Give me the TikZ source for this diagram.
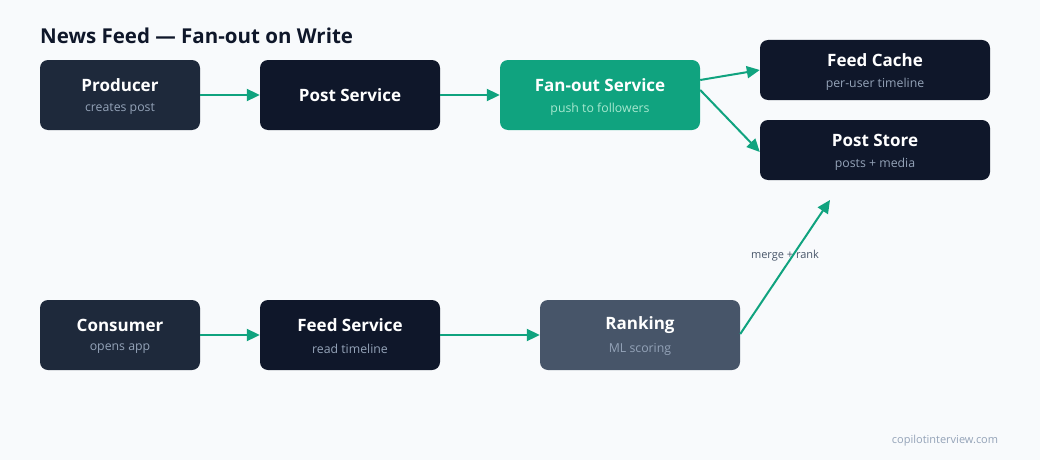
\documentclass[tikz,border=0pt]{standalone}
\usepackage{fontspec}
\setmainfont{Open Sans}
\usetikzlibrary{arrows.meta}
\definecolor{bg}{HTML}{F8FAFC}
\definecolor{dk}{HTML}{0F172A}
\definecolor{dk2}{HTML}{1E293B}
\definecolor{gr}{HTML}{10A37F}
\definecolor{sl}{HTML}{475569}
\definecolor{sub}{HTML}{94A3B8}
\definecolor{subg}{HTML}{A7E8CF}
\begin{document}
\begin{tikzpicture}[x=1pt,y=-1pt,
 box/.style={rounded corners=8pt,inner sep=0pt},
 ttl/.style={font=\bfseries\fontsize{17}{20}\selectfont,text=white},
 st/.style={font=\fontsize{12.3}{14}\selectfont,text=sub},
 arr/.style={draw=gr,line width=2pt,-{Triangle[length=13pt,width=12pt]}}]
\fill[bg] (0,0) rectangle (1040,460);
\useasboundingbox (0,0) rectangle (1040,460);
\node[anchor=base west,font=\bfseries\fontsize{20.5}{24}\selectfont,text=dk,inner sep=0pt] (title) at (40,44) {News Feed — Fan-out on Write};
\newcommand\bx[6]{% name x1 y1 x2 y2 color
 \node[box,fill=#6,minimum width={(#4-#2)*1pt},minimum height={(#5-#3)*1pt}] (#1) at ({(#2+#4)/2},{(#3+#5)/2}) {};}
\bx{prod}{40}{60}{200}{130}{dk2}
\bx{post}{260}{60}{440}{130}{dk}
\bx{fan}{500}{60}{700}{130}{gr}
\bx{cache}{760}{40}{990}{100}{dk}
\bx{store}{760}{120}{990}{180}{dk}
\bx{cons}{40}{300}{200}{370}{dk2}
\bx{feed}{260}{300}{440}{370}{dk}
\bx{rank}{540}{300}{740}{370}{sl}
\node[ttl] at (120,85) {Producer};
\node[st] at (120,109) {creates post};
\node[ttl] at (350,95) {Post Service};
\node[ttl] at (600,85) {Fan-out Service};
\node[st,text=subg] at (600,109) {push to followers};
\node[ttl] at (875,60) {Feed Cache};
\node[st] at (875,84) {per-user timeline};
\node[ttl] at (875,140) {Post Store};
\node[st] at (875,164) {posts + media};
\node[ttl] at (120,325) {Consumer};
\node[st] at (120,349) {opens app};
\node[ttl] at (350,325) {Feed Service};
\node[st] at (350,349) {read timeline};
\node[ttl] at (640,325) {Ranking};
\node[st] at (640,349) {ML scoring};
\draw[arr] (prod.east |- 0,95) -- (post.west |- 0,95);
\draw[arr] (post.east |- 0,95) -- (fan.west |- 0,95);
\draw[arr] (fan.east |- 0,80) -- (cache.west |- 0,70);
\draw[arr] (fan.east |- 0,90) -- (store.west |- 0,152);
\draw[arr] (cons.east |- 0,335) -- (feed.west |- 0,335);
\draw[arr] (feed.east |- 0,335) -- (rank.west |- 0,335);
\coordinate (mr) at (830,200);
\draw[arr] (rank.east |- 0,334) -- (mr);
\node[font=\fontsize{11}{13}\selectfont,text=sl] (lbl) at (785,256) {merge + rank};
\node[font=\fontsize{11}{13}\selectfont,text=sub] (wm) at (945,441) {copilotinterview.com};
\end{tikzpicture}
\end{document}
